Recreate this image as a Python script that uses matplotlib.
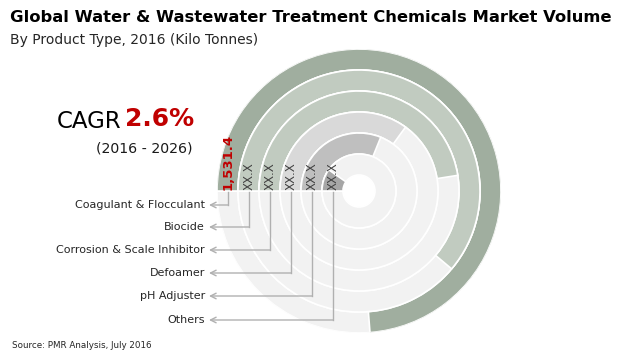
import numpy as np
import matplotlib
matplotlib.use("Agg")
import matplotlib.pyplot as plt

# data (kilo tonnes); only the first value is printed, the rest are estimated from arc length
products = ["Coagulant & Flocculant", "Biocide", "Corrosion & Scale Inhibitor",
            "Defoamer", "pH Adjuster", "Others"]
values = [1531.4, 1269.0, 986.0, 727.0, 646.0, 202.0]
value_labels = ["1,531.4", "XX.X", "XX.X", "XX.X", "XX.X", "XX.X"]
full_scale = 1557.0  # value that would fill 270 degrees
colors = ["#a0ae9f", "#c1cbc0", "#c1cbc0", "#d9d9d9", "#bfbfbf", "#a6a6a6"]

W, H = 620, 361
cx, cy = 359, 191
r_out, r_hole = 142, 16
ring_w = (r_out - r_hole) / len(products)

fig = plt.figure(figsize=(W / 100, H / 100), dpi=100)

# radial bars
pax = fig.add_axes([(cx - r_out) / W, 1 - (cy + r_out) / H, 2 * r_out / W, 2 * r_out / H],
                   projection="polar")
pax.set_theta_offset(np.pi)
pax.set_theta_direction(-1)
pax.set_rlim(0, r_out)
pax.axis("off")

for i, (v, c) in enumerate(zip(values, colors)):
    bottom = r_out - (i + 1) * ring_w
    pax.bar(0, ring_w, width=2 * np.pi, bottom=bottom, align="edge",
            color="#f2f2f2", edgecolor="white", linewidth=1.2)
    sweep = v / full_scale * 1.5 * np.pi
    pax.bar(0, ring_w, width=sweep, bottom=bottom, align="edge",
            color=c, edgecolor="white", linewidth=1.2)

# flat overlay in pixel units for texts and leader lines
ov = fig.add_axes([0, 0, 1, 1], zorder=5)
ov.set_xlim(0, W)
ov.set_ylim(H, 0)
ov.patch.set_alpha(0)
ov.axis("off")

label_y = [205, 227, 250, 273, 296, 320]
for i, (name, lab) in enumerate(zip(products, value_labels)):
    r_mid = r_out - (i + 0.5) * ring_w
    x = cx - r_mid
    if i == 0:
        ov.text(x + 1, cy - 1, lab, rotation=90, ha="center", va="bottom",
                fontsize=9.5, color="#c00000", fontweight="bold")
    else:
        ov.text(x + 1, cy - 1, lab, rotation=90, ha="center", va="bottom",
                fontsize=8.5, color="#404040")
    ov.plot([x, x], [cy + 1, label_y[i]], color="#b0b0b0", lw=1)
    ov.annotate("", xy=(209, label_y[i]), xytext=(x + 0.5, label_y[i]),
                arrowprops=dict(arrowstyle="->", color="#b0b0b0", lw=1,
                                shrinkA=0, shrinkB=0, mutation_scale=10))
    ov.text(205, label_y[i], name, ha="right", va="center", fontsize=8, color="#262626")

ov.text(10, 18, "Global Water & Wastewater Treatment Chemicals Market Volume",
        fontsize=11.8, fontweight="bold", color="black", va="center")
ov.text(10, 40, "By Product Type, 2016 (Kilo Tonnes)", fontsize=10,
        color="#262626", va="center")
ov.text(121, 121, "CAGR", fontsize=16.5, color="black", ha="right", va="center")
ov.text(125, 119, "2.6%", fontsize=18, color="#c00000", fontweight="bold",
        ha="left", va="center")
ov.text(192, 149, "(2016 - 2026)", fontsize=10.2, color="#1a1a1a", ha="right", va="center")
ov.text(12, 346, "Source: PMR Analysis, July 2016", fontsize=6.3, color="#262626", va="center")

fig.savefig("out.png", dpi=100)
